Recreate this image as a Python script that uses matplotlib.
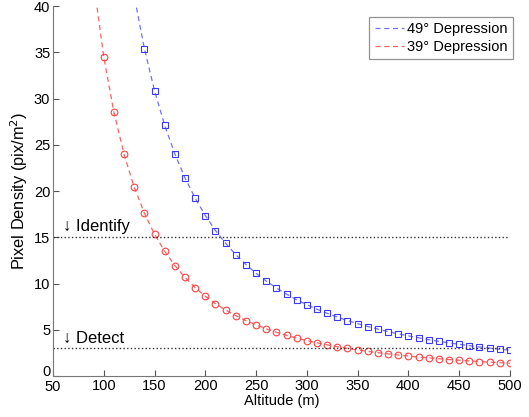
import matplotlib
matplotlib.use("Agg")
import matplotlib.pyplot as plt
import matplotlib.transforms as mtransforms

plt.rcParams['font.family'] = ['Liberation Sans', 'DejaVu Sans']

# Altitude samples (m)
alt_49 = [130, 140, 150, 160, 170, 180, 190, 200, 210, 220, 230, 240, 250, 260,
          270, 280, 290, 300, 310, 320, 330, 340, 350, 360, 370, 380, 390, 400,
          410, 420, 430, 440, 450, 460, 470, 480, 490, 500]
alt_39 = [90, 100, 110, 120, 130, 140, 150, 160, 170, 180, 190, 200, 210, 220,
          230, 240, 250, 260, 270, 280, 290, 300, 310, 320, 330, 340, 350, 360,
          370, 380, 390, 400, 410, 420, 430, 440, 450, 460, 470, 480, 490, 500]

# Pixel density (pix/m^2)
dens_49 = [41.06, 35.40, 30.84, 27.10, 24.01, 21.41, 19.22, 17.35, 15.73, 14.34,
           13.12, 12.05, 11.10, 10.26, 9.52, 8.85, 8.25, 7.71, 7.22, 6.78, 6.37,
           6.00, 5.66, 5.35, 5.07, 4.80, 4.56, 4.34, 4.13, 3.93, 3.75, 3.58,
           3.43, 3.28, 3.14, 3.01, 2.89, 2.78]
dens_39 = [42.59, 34.50, 28.51, 23.96, 20.41, 17.60, 15.33, 13.48, 11.94, 10.65,
           9.56, 8.63, 7.82, 7.13, 6.52, 5.99, 5.52, 5.10, 4.73, 4.40, 4.10,
           3.83, 3.59, 3.37, 3.17, 2.98, 2.82, 2.66, 2.52, 2.39, 2.27, 2.16,
           2.05, 1.96, 1.87, 1.78, 1.70, 1.63, 1.56, 1.50, 1.44, 1.38]

identify_level = 15
detect_level = 3

x_ticks = list(range(50, 501, 50))
y_ticks = list(range(0, 41, 5))

fig = plt.figure(figsize=(5.29, 4.17), dpi=100)
ax = fig.add_axes([0.1002, 0.0983, 0.8638, 0.8873])

blue_line = '#7070ff'
blue_mark = '#3a3aff'
red_line = '#ff6060'
red_mark = '#ff4040'

ax.plot(alt_49, dens_49, '--', color=blue_line, lw=0.9, dashes=(4, 3),
        label='49° Depression')
ax.plot(alt_39, dens_39, '--', color=red_line, lw=0.9, dashes=(4, 3),
        label='39° Depression')
ax.plot(alt_49, dens_49, 's', mfc='none', mec=blue_mark, ms=4.2, mew=0.8)
ax.plot(alt_39, dens_39, 'o', mfc='none', mec=red_mark, ms=4.8, mew=0.8)

ax.axhline(identify_level, color='#333333', ls=':', lw=1.0)
ax.axhline(detect_level, color='#333333', ls=':', lw=1.0)

ax.text(60, identify_level + 0.3, '↓ Identify', fontsize=12, va='bottom', ha='left')
ax.text(60, detect_level + 0.3, '↓ Detect', fontsize=12, va='bottom', ha='left')

ax.set_xlim(50, 500)
ax.set_ylim(0, 40)
ax.set_xticks(x_ticks)
ax.set_yticks(y_ticks)
ax.tick_params(direction='in', length=4, labelsize=10.5, color='#555555', pad=2)
ax.spines['top'].set_visible(False)
ax.spines['right'].set_visible(False)
ax.spines['left'].set_color('#777777')
ax.spines['bottom'].set_color('#777777')

# nudge the origin labels apart so "0" and "50" do not collide
zero_lbl = ax.get_yticklabels()[0]
zero_lbl.set_transform(zero_lbl.get_transform() +
                       mtransforms.ScaledTranslation(0, 4 / 72, fig.dpi_scale_trans))
fifty_lbl = ax.get_xticklabels()[0]
fifty_lbl.set_transform(fifty_lbl.get_transform() +
                        mtransforms.ScaledTranslation(0, -1 / 72, fig.dpi_scale_trans))

ax.set_xlabel('Altitude (m)', fontsize=10.5, labelpad=0)
ax.set_ylabel('Pixel Density (pix/m$^2$)', fontsize=11.8, labelpad=3)

leg = ax.legend(loc='upper right', fontsize=10.5, frameon=True, fancybox=False,
                handlelength=2.0, borderpad=0.35, labelspacing=0.25,
                handletextpad=0.25, borderaxespad=0,
                bbox_to_anchor=(1.0066, 0.970))
leg.get_frame().set_edgecolor('#777777')
leg.get_frame().set_linewidth(0.9)

fig.savefig('out.png', dpi=100)
